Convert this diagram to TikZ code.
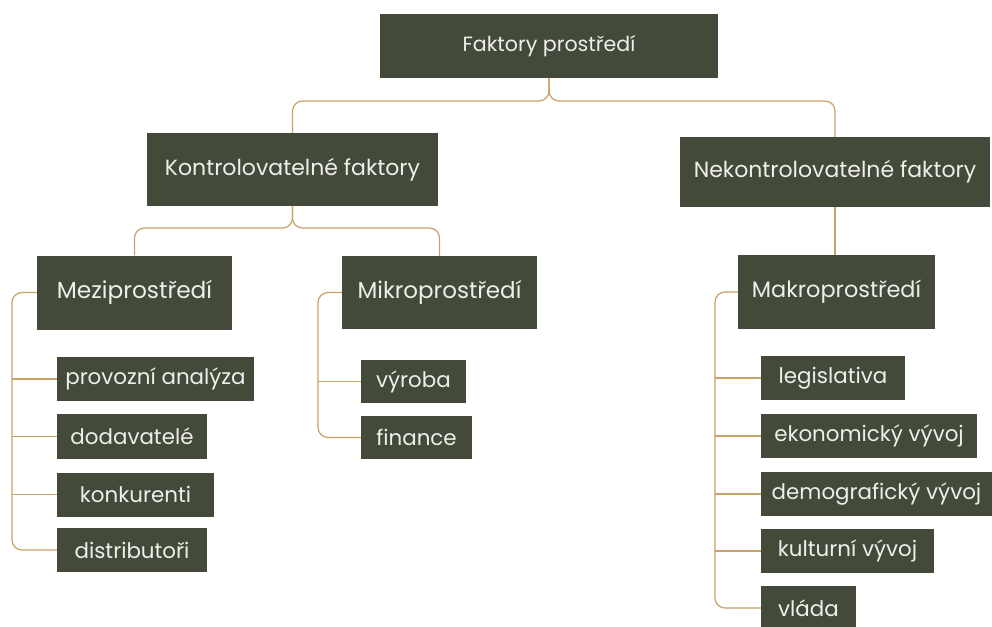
\documentclass[tikz,border=0pt]{standalone}
\usepackage{fontspec}
\setmainfont{Poppins}
\definecolor{boxfill}{HTML}{434A3A}
\definecolor{gold}{HTML}{C9A266}
\definecolor{txt}{HTML}{EEEEEA}
\begin{document}
\begin{tikzpicture}[x=1pt,y=-1pt,
  box/.style={fill=boxfill, text=txt, inner sep=0pt, align=center, font=\fontsize{21.4}{24}\selectfont},
  big/.style={box, font=\fontsize{22}{26}\selectfont},
  link/.style={draw=gold, line width=1.2pt, rounded corners=10pt}]
\useasboundingbox (0,0) rectangle (992,626);
% top levels
\node[big, font=\fontsize{20.6}{24}\selectfont, minimum width=338pt, minimum height=64pt] (top) at (549,46) {Faktory prostředí};
\node[big, minimum width=291pt, minimum height=73pt] (kon) at (292.5,169.5) {Kontrolovatelné faktory};
\node[big, minimum width=310pt, minimum height=70pt] (nek) at (835,172) {Nekontrolovatelné faktory};
\node[big, font=\fontsize{23.3}{26}\selectfont, minimum width=195pt, minimum height=74pt] (mezi) at (134.5,292.5) {Meziprostředí};
\node[big, font=\fontsize{23}{26}\selectfont, minimum width=195pt, minimum height=73pt] (mikro) at (439.5,292.5) {Mikroprostředí};
\node[big, font=\fontsize{22.4}{26}\selectfont, minimum width=197pt, minimum height=74pt] (makro) at (836.5,292) {Makroprostředí};
% mezi children
\node[box, minimum width=197pt, minimum height=44pt] (prov) at (155.5,379) {provozní analýza};
\node[box, minimum width=150pt, minimum height=45pt] (dod) at (132,436.5) {dodavatelé};
\node[box, minimum width=157pt, minimum height=44pt] (konk) at (135.5,494.5) {konkurenti};
\node[box, minimum width=150pt, minimum height=44pt] (dist) at (132,550) {distributoři};
% mikro children
\node[box, minimum width=105pt, minimum height=43pt] (vyr) at (413.5,381.5) {výroba};
\node[box, minimum width=111pt, minimum height=43pt] (fin) at (416.5,437.5) {finance};
% makro children
\node[box, minimum width=144pt, minimum height=44pt] (leg) at (833,378) {legislativa};
\node[box, minimum width=216pt, minimum height=44pt] (eko) at (869,436) {ekonomický vývoj};
\node[box, minimum width=231pt, minimum height=44pt] (demo) at (876.5,494) {demografický vývoj};
\node[box, minimum width=173pt, minimum height=44pt] (kult) at (847.5,551) {kulturní vývoj};
\node[box, minimum width=95pt, minimum height=44pt] (vlada) at (808.5,608) {vláda};
% tree connectors
\coordinate (s1) at (549,101);
\coordinate (s2) at (292.5,228);
\draw[link] (top.south) -- (s1) -| (kon.north);
\draw[link] (top.south) -- (s1) -| (nek.north);
\draw[link] (kon.south) -- (s2) -| (mezi.north);
\draw[link] (kon.south) -- (s2) -| (mikro.north);
\draw[link] (nek.south) -- (nek.south |- makro.north);
% brackets
\coordinate (bx1) at (12,0);
\coordinate (bx2) at (318,0);
\coordinate (bx3) at (715,0);
\draw[link] (mezi.west) -- (mezi.west -| bx1) -- (dist.west -| bx1) -- (dist.west);
\draw[link] (prov.west) -- (prov.west -| bx1);
\draw[link] (dod.west) -- (dod.west -| bx1);
\draw[link] (konk.west) -- (konk.west -| bx1);
\draw[link] (mikro.west) -- (mikro.west -| bx2) -- (fin.west -| bx2) -- (fin.west);
\draw[link] (vyr.west) -- (vyr.west -| bx2);
\draw[link] (makro.west) -- (makro.west -| bx3) -- (vlada.west -| bx3) -- (vlada.west);
\draw[link] (leg.west) -- (leg.west -| bx3);
\draw[link] (eko.west) -- (eko.west -| bx3);
\draw[link] (demo.west) -- (demo.west -| bx3);
\draw[link] (kult.west) -- (kult.west -| bx3);
\end{tikzpicture}
\end{document}
